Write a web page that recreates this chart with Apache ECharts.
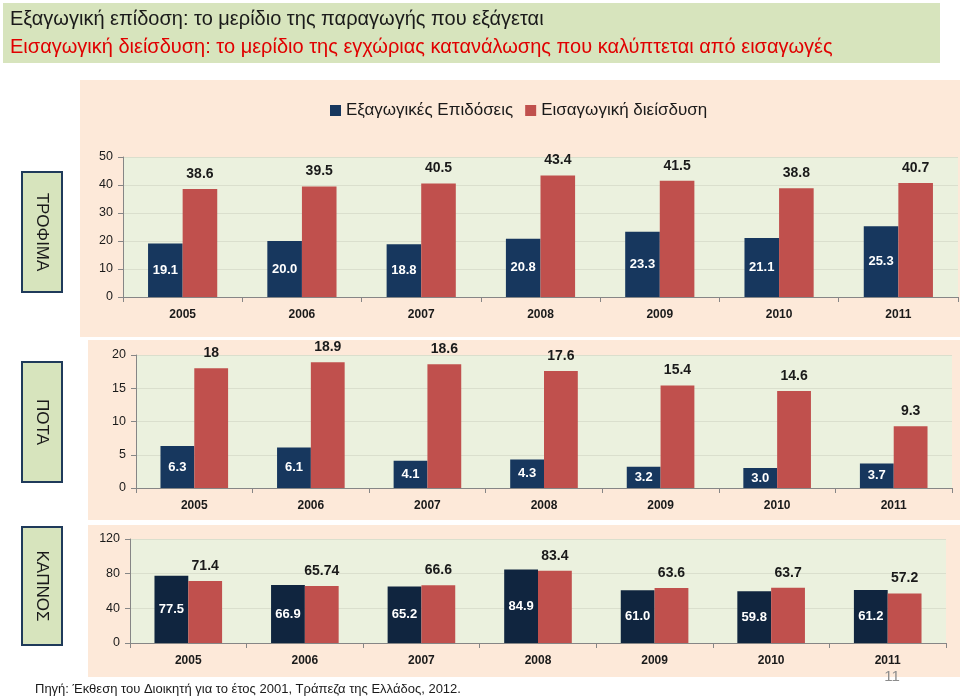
<!DOCTYPE html>
<html><head><meta charset="utf-8">
<script src="https://cdn.jsdelivr.net/npm/echarts@6/dist/echarts.min.js"></script>
<style>html,body{margin:0;padding:0;background:#fff}#c{width:960px;height:697px}</style>
</head><body><div id="c"></div><script>
const years = ['2005','2006','2007','2008','2009','2010','2011'];
const seriesNames = ['Εξαγωγικές Επιδόσεις','Εισαγωγική διείσδυση'];
const panelNames = ['ΤΡΟΦΙΜΑ','ΠΟΤΑ','ΚΑΠΝΟΣ'];
const foodExport = [19.1,20.0,18.8,20.8,23.3,21.1,25.3];
const foodImport = [38.6,39.5,40.5,43.4,41.5,38.8,40.7];
const drinkExport = [6.3,6.1,4.1,4.3,3.2,3.0,3.7];
const drinkImport = [18,18.9,18.6,17.6,15.4,14.6,9.3];
const tobaccoExport = [77.5,66.9,65.2,84.9,61.0,59.8,61.2];
const tobaccoImport = [71.4,65.74,66.6,83.4,63.6,63.7,57.2];
const axisMax = [50,20,120];
const axisStep = [10,5,40];
const titleLine1 = 'Εξαγωγική επίδοση: το μερίδιο της παραγωγής που εξάγεται';
const titleLine2 = 'Εισαγωγική διείσδυση: το μερίδιο της εγχώριας κατανάλωσης που καλύπτεται από εισαγωγές';
const sourceText = 'Πηγή: Έκθεση του Διοικητή για το έτος 2001, Τράπεζα της Ελλάδος, 2012.';
const pageNo = '11';

const FONT = '"Liberation Sans", Arial, sans-serif';
const BLUE = ['#17375e','#17375e','#10253f'];
const RED = '#c0504d';
const exportsData = [foodExport, drinkExport, tobaccoExport];
const importsData = [foodImport, drinkImport, tobaccoImport];

const grids = [
  {left:123, top:157, width:835, height:140},
  {left:136, top:355, width:816, height:133},
  {left:130, top:539, width:816, height:104}
];
const boxes = [
  {x:22, y:172, w:40, h:120},
  {x:22, y:362, w:40, h:120},
  {x:22, y:527, w:40, h:118}
];

const chart = echarts.init(document.getElementById('c'));
const xAxis = [], yAxis = [], series = [];
grids.forEach((g,i)=>{
  xAxis.push({type:'category', gridIndex:i, data:years,
    axisLine:{lineStyle:{color:'#868686'}},
    axisTick:{show:true, lineStyle:{color:'#868686'}},
    axisLabel:{fontFamily:FONT, fontSize:12, fontWeight:'bold', color:'#1a1a1a', margin:12}});
  yAxis.push({type:'value', gridIndex:i, min:0, max:axisMax[i], interval:axisStep[i],
    axisLine:{show:true, lineStyle:{color:'#868686'}},
    axisTick:{show:true, lineStyle:{color:'#868686'}},
    splitLine:{lineStyle:{color:'#dadfcd'}},
    axisLabel:{fontFamily:FONT, fontSize:12.5, color:'#1a1a1a', margin:10}});
  series.push({name:seriesNames[0], type:'bar', xAxisIndex:i, yAxisIndex:i,
    data:exportsData[i], barGap:'0%', barCategoryGap:'42%',
    itemStyle:{color:BLUE[i]},
    label:{show:true, position:'inside', color:'#fff', fontFamily:FONT, fontSize:13, fontWeight:'bold',
      formatter:p=>p.value.toFixed(1)}});
  series.push({name:seriesNames[1], type:'bar', xAxisIndex:i, yAxisIndex:i,
    data:importsData[i], barGap:'0%', barCategoryGap:'42%',
    itemStyle:{color:RED},
    label:{show:true, position:'top', distance:8, color:'#1a1a1a', fontFamily:FONT, fontSize:14, fontWeight:'bold'}});
});

const graphic = [
  {type:'rect', shape:{x:3,y:3,width:937,height:60}, style:{fill:'#d7e4bd'}, z:-10},
  {type:'rect', shape:{x:80,y:80,width:880,height:257}, style:{fill:'#fde9d9'}, z:-10},
  {type:'rect', shape:{x:88,y:340,width:872,height:180}, style:{fill:'#fde9d9'}, z:-10},
  {type:'rect', shape:{x:88,y:525,width:872,height:152}, style:{fill:'#fde9d9'}, z:-10},
  {type:'text', x:10, y:19, style:{text:titleLine1, fontFamily:FONT, fontSize:20, fill:'#1a1a1a', textVerticalAlign:'middle'}},
  {type:'text', x:10, y:47, style:{text:titleLine2, fontFamily:FONT, fontSize:20, fill:'#e00000', textVerticalAlign:'middle'}},
  {type:'text', x:35, y:689, style:{text:sourceText, fontFamily:FONT, fontSize:13, fill:'#1a1a1a', textVerticalAlign:'middle'}},
  {type:'text', x:892, y:677, style:{text:pageNo, fontFamily:FONT, fontSize:15, fill:'#8c8c8c', textAlign:'center', textVerticalAlign:'middle'}}
];
boxes.forEach((b,i)=>{
  graphic.push({type:'rect', shape:{x:b.x,y:b.y,width:b.w,height:b.h}, style:{fill:'#d7e4bd', stroke:'#1f3a5a', lineWidth:2}});
  graphic.push({type:'text', x:b.x+b.w/2, y:b.y+b.h/2, rotation:-Math.PI/2,
    style:{text:panelNames[i], fontFamily:FONT, fontSize:17, fill:'#1a1a1a', textAlign:'center', textVerticalAlign:'middle'}});
});

chart.setOption({
  animation:false,
  backgroundColor:'#ffffff',
  legend:{data:seriesNames, left:325, top:97, itemWidth:11, itemHeight:11, itemGap:12, icon:'rect',
    textStyle:{fontFamily:FONT, fontSize:17, color:'#1a1a1a'}},
  grid:grids.map(g=>Object.assign({show:true, backgroundColor:'#ebf1de', borderWidth:0}, g)),
  xAxis, yAxis, series, graphic
});
</script></body></html>
